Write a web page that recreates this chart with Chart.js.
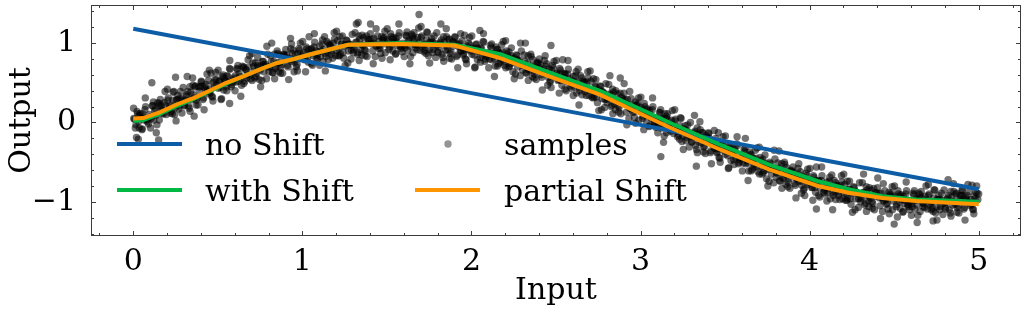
<!DOCTYPE html>
<html><head><meta charset="utf-8">
<script src="https://cdn.jsdelivr.net/npm/chart.js@4.4.0/dist/chart.umd.min.js"></script>
<style>html,body{margin:0;padding:0;background:#fff;}canvas{display:block;}</style>
</head><body>
<canvas id="c" width="1026" height="313"></canvas>
<script>
// ---------------- data ----------------
const xTickValues = [0, 1, 2, 3, 4, 5];
const yTickValues = [-1, 0, 1];

const noShiftX = [0, 1, 2, 3, 4, 5];
const noShiftY = [1.18, 0.78, 0.37, -0.03, -0.44, -0.84];

const shiftX = [0, 0.06, 0.16, 0.26, 0.36, 0.46, 0.55, 0.65, 0.75, 0.85, 0.95, 1.05, 1.27, 1.58, 1.9, 2.17, 2.46, 2.76, 3.05, 3.17, 3.47, 3.76, 4.05, 4.23, 4.43, 4.63, 5.0];
const withShiftY = [0.02, 0.03, 0.11, 0.21, 0.30, 0.40, 0.49, 0.58, 0.67, 0.75, 0.80, 0.86, 0.98, 1.00, 0.98, 0.86, 0.63, 0.40, 0.12, 0.00, -0.28, -0.53, -0.74, -0.84, -0.93, -0.97, -1.00];
const partialShiftY = [0.05, 0.055, 0.13, 0.23, 0.31, 0.41, 0.50, 0.58, 0.67, 0.75, 0.80, 0.86, 0.98, 0.99, 0.97, 0.81, 0.58, 0.35, 0.06, -0.06, -0.34, -0.59, -0.80, -0.885, -0.95, -0.99, -1.03];

const samples = [
[0.003,0.05],[0.012,-0.07],[0.022,0.14],[0.031,0.01],[0.040,0.11],[0.051,-0.09],[0.060,0.07],[0.069,0.16],[0.079,0.03],[0.090,-0.02],
[0.103,0.07],[0.112,0.21],[0.122,0.03],[0.131,0.17],[0.140,-0.03],[0.151,0.21],[0.160,0.29],[0.169,0.16],[0.179,0.11],[0.190,0.21],
[0.203,0.28],[0.212,0.17],[0.222,0.22],[0.231,0.11],[0.240,0.39],[0.251,0.19],[0.260,0.29],[0.269,0.17],[0.279,0.39],[0.290,0.27],
[0.303,0.21],[0.312,0.33],[0.322,0.39],[0.331,0.18],[0.340,0.38],[0.351,0.56],[0.360,0.31],[0.369,0.46],[0.379,0.31],[0.390,0.39],
[0.403,0.51],[0.412,0.29],[0.422,0.45],[0.431,0.48],[0.440,0.40],[0.451,0.36],[0.460,0.62],[0.469,0.32],[0.479,0.46],[0.490,0.54],
[0.503,0.43],[0.512,0.52],[0.522,0.30],[0.531,0.60],[0.540,0.52],[0.551,0.45],[0.560,0.58],[0.569,0.68],[0.579,0.45],[0.590,0.54],
[0.603,0.59],[0.612,0.68],[0.622,0.52],[0.631,0.58],[0.640,0.47],[0.651,0.69],[0.660,0.52],[0.669,0.66],[0.679,0.79],[0.690,0.60],
[0.703,0.53],[0.712,0.71],[0.722,0.75],[0.731,0.62],[0.740,0.70],[0.751,0.66],[0.760,0.53],[0.769,0.77],[0.779,0.71],[0.790,0.96],
[0.803,0.70],[0.812,0.84],[0.822,0.63],[0.831,0.77],[0.840,0.68],[0.851,0.90],[0.860,0.64],[0.869,0.76],[0.879,0.73],[0.890,0.86],
[0.903,0.81],[0.912,0.72],[0.922,0.79],[0.931,0.93],[0.940,0.87],[0.951,0.64],[0.960,0.86],[0.969,0.73],[0.979,0.93],[0.990,0.81],
[1.003,0.85],[1.012,0.79],[1.022,0.95],[1.031,0.82],[1.040,1.08],[1.051,0.92],[1.060,0.72],[1.069,0.95],[1.079,0.90],[1.090,0.80],
[1.103,0.96],[1.112,0.90],[1.122,0.77],[1.131,1.08],[1.140,0.83],[1.151,0.88],[1.160,0.98],[1.169,0.96],[1.179,0.81],[1.190,1.05],
[1.203,0.91],[1.212,0.84],[1.222,1.08],[1.231,0.99],[1.240,0.88],[1.251,0.96],[1.260,1.04],[1.269,0.75],[1.279,0.99],[1.290,0.91],
[1.303,0.92],[1.312,1.13],[1.322,1.01],[1.331,0.88],[1.340,1.05],[1.351,0.85],[1.360,0.97],[1.369,0.92],[1.379,1.09],[1.390,1.00],
[1.403,1.24],[1.412,0.99],[1.422,1.06],[1.431,0.83],[1.440,0.97],[1.451,1.02],[1.460,0.94],[1.469,1.08],[1.479,1.06],[1.490,0.88],
[1.503,1.05],[1.512,0.92],[1.522,1.12],[1.531,0.98],[1.540,1.07],[1.551,0.86],[1.560,1.01],[1.569,1.09],[1.579,0.95],[1.590,0.89],
[1.603,0.97],[1.612,1.10],[1.622,0.91],[1.631,1.04],[1.640,0.83],[1.651,1.06],[1.660,1.13],[1.669,0.98],[1.679,0.92],[1.690,1.01],
[1.703,1.07],[1.712,0.95],[1.722,0.99],[1.731,0.87],[1.740,1.13],[1.751,0.92],[1.760,1.01],[1.769,0.88],[1.779,1.09],[1.790,0.96],
[1.803,0.88],[1.812,0.99],[1.822,1.04],[1.831,0.82],[1.840,1.01],[1.851,1.18],[1.860,0.92],[1.869,1.05],[1.879,0.89],[1.890,0.96],
[1.903,1.07],[1.912,0.83],[1.922,0.98],[1.931,1.00],[1.940,0.90],[1.951,0.85],[1.960,1.10],[1.969,0.79],[1.979,0.92],[1.990,0.98],
[2.003,0.86],[2.012,0.93],[2.022,0.70],[2.031,0.99],[2.040,0.90],[2.051,0.82],[2.060,0.93],[2.069,1.02],[2.079,0.77],[2.090,0.85],
[2.103,0.88],[2.112,0.97],[2.122,0.79],[2.131,0.84],[2.140,0.71],[2.151,0.92],[2.160,0.74],[2.169,0.87],[2.179,0.98],[2.190,0.77],
[2.203,0.69],[2.212,0.86],[2.222,0.89],[2.231,0.74],[2.240,0.81],[2.251,0.76],[2.260,0.61],[2.269,0.84],[2.279,0.77],[2.290,1.00],
[2.303,0.72],[2.312,0.85],[2.322,0.63],[2.331,0.75],[2.340,0.66],[2.351,0.86],[2.360,0.58],[2.369,0.70],[2.379,0.65],[2.390,0.76],
[2.403,0.69],[2.412,0.60],[2.422,0.65],[2.431,0.78],[2.440,0.71],[2.451,0.47],[2.460,0.67],[2.469,0.53],[2.479,0.72],[2.490,0.58],
[2.503,0.61],[2.512,0.53],[2.522,0.68],[2.531,0.53],[2.540,0.79],[2.551,0.61],[2.560,0.40],[2.569,0.61],[2.579,0.55],[2.590,0.43],
[2.603,0.58],[2.612,0.51],[2.622,0.37],[2.631,0.67],[2.640,0.40],[2.651,0.44],[2.660,0.52],[2.669,0.50],[2.679,0.34],[2.690,0.56],
[2.703,0.41],[2.712,0.32],[2.722,0.55],[2.731,0.45],[2.740,0.32],[2.751,0.39],[2.760,0.46],[2.769,0.16],[2.779,0.38],[2.790,0.29],
[2.803,0.29],[2.812,0.48],[2.822,0.35],[2.831,0.22],[2.840,0.38],[2.851,0.16],[2.860,0.27],[2.869,0.21],[2.879,0.37],[2.890,0.27],
[2.903,0.49],[2.912,0.24],[2.922,0.29],[2.931,0.05],[2.940,0.18],[2.951,0.22],[2.960,0.13],[2.969,0.26],[2.979,0.22],[2.990,0.03],
[3.003,0.19],[3.012,0.05],[3.022,0.24],[3.031,0.09],[3.040,0.17],[3.051,-0.05],[3.060,0.09],[3.069,0.16],[3.079,0.01],[3.090,-0.06],
[3.103,0.01],[3.112,0.13],[3.122,-0.07],[3.131,0.05],[3.140,-0.17],[3.151,0.05],[3.160,0.11],[3.169,-0.04],[3.179,-0.11],[3.190,-0.03],
[3.203,0.02],[3.212,-0.11],[3.222,-0.08],[3.231,-0.21],[3.240,0.05],[3.251,-0.17],[3.260,-0.09],[3.269,-0.23],[3.279,-0.03],[3.290,-0.17],
[3.303,-0.25],[3.312,-0.15],[3.322,-0.11],[3.331,-0.34],[3.340,-0.15],[3.351,0.01],[3.360,-0.26],[3.369,-0.13],[3.379,-0.30],[3.390,-0.24],
[3.403,-0.14],[3.412,-0.38],[3.422,-0.24],[3.431,-0.23],[3.440,-0.32],[3.451,-0.38],[3.460,-0.13],[3.469,-0.45],[3.479,-0.33],[3.490,-0.27],
[3.503,-0.40],[3.512,-0.33],[3.522,-0.57],[3.531,-0.29],[3.540,-0.38],[3.551,-0.47],[3.560,-0.36],[3.569,-0.27],[3.579,-0.52],[3.590,-0.45],
[3.603,-0.43],[3.612,-0.34],[3.622,-0.52],[3.631,-0.48],[3.640,-0.61],[3.651,-0.41],[3.660,-0.59],[3.669,-0.46],[3.679,-0.35],[3.690,-0.56],
[3.703,-0.65],[3.712,-0.48],[3.722,-0.46],[3.731,-0.61],[3.740,-0.53],[3.751,-0.59],[3.760,-0.74],[3.769,-0.52],[3.779,-0.59],[3.790,-0.35],
[3.803,-0.63],[3.812,-0.51],[3.822,-0.73],[3.831,-0.61],[3.840,-0.70],[3.851,-0.50],[3.860,-0.78],[3.869,-0.66],[3.879,-0.71],[3.890,-0.60],
[3.903,-0.67],[3.912,-0.77],[3.922,-0.71],[3.931,-0.58],[3.940,-0.66],[3.951,-0.89],[3.960,-0.69],[3.969,-0.83],[3.979,-0.64],[3.990,-0.78],
[4.003,-0.75],[4.012,-0.82],[4.022,-0.67],[4.031,-0.82],[4.040,-0.56],[4.051,-0.74],[4.060,-0.94],[4.069,-0.73],[4.079,-0.79],[4.090,-0.90],
[4.103,-0.75],[4.112,-0.83],[4.122,-0.96],[4.131,-0.66],[4.140,-0.92],[4.151,-0.88],[4.160,-0.79],[4.169,-0.82],[4.179,-0.97],[4.190,-0.75],
[4.203,-0.89],[4.212,-0.98],[4.222,-0.74],[4.231,-0.84],[4.240,-0.96],[4.251,-0.89],[4.260,-0.81],[4.269,-1.10],[4.279,-0.88],[4.290,-0.96],
[4.303,-0.96],[4.312,-0.76],[4.322,-0.88],[4.331,-1.02],[4.340,-0.85],[4.351,-1.06],[4.360,-0.95],[4.369,-1.00],[4.379,-0.83],[4.390,-0.93],
[4.403,-0.70],[4.412,-0.95],[4.422,-0.89],[4.431,-1.12],[4.440,-0.98],[4.451,-0.94],[4.460,-1.02],[4.469,-0.88],[4.479,-0.91],[4.490,-1.10],
[4.503,-0.93],[4.512,-1.06],[4.522,-0.86],[4.531,-1.00],[4.540,-0.91],[4.551,-1.13],[4.560,-0.98],[4.569,-0.90],[4.579,-1.04],[4.590,-1.10],
[4.603,-1.02],[4.612,-0.89],[4.622,-1.09],[4.631,-0.96],[4.640,-1.17],[4.651,-0.94],[4.660,-0.87],[4.669,-1.01],[4.679,-1.07],[4.690,-0.98],
[4.703,-0.92],[4.712,-1.04],[4.722,-1.00],[4.731,-1.12],[4.740,-0.85],[4.751,-1.06],[4.760,-0.97],[4.769,-1.10],[4.779,-0.89],[4.790,-1.02],
[4.803,-1.09],[4.812,-0.97],[4.822,-0.92],[4.831,-1.14],[4.840,-0.94],[4.851,-0.77],[4.860,-1.03],[4.869,-0.89],[4.879,-1.05],[4.890,-0.97],
[4.903,-0.86],[4.912,-1.09],[4.922,-0.94],[4.931,-0.92],[4.940,-1.00],[4.951,-1.05],[4.960,-0.79],[4.969,-1.10],[4.979,-0.96],[4.990,-0.89],
[0.030,-0.21],[0.110,0.50],[0.250,0.57],[0.450,0.66],[0.930,1.06],[1.690,1.36],[1.330,1.26],[2.050,1.16],[2.470,0.97],[2.880,0.56],
[0.360,0.08],[0.570,0.24],[3.120,-0.43],[3.330,-0.55],[3.620,-0.20],[4.040,-1.09],[4.500,-1.28],[4.730,-1.24],[0.150,-0.22],[5.000,-0.90],
[0.007,0.04],[0.016,-0.03],[0.026,0.11],[0.035,-0.07],[0.045,0.05],[0.054,0.11],[0.064,0.03],[0.073,0.20],[0.083,0.01],[0.095,0.10],
[0.107,0.05],[0.116,0.21],[0.126,0.15],[0.135,0.09],[0.145,0.25],[0.154,0.03],[0.164,0.21],[0.173,0.15],[0.183,0.25],[0.195,0.10],
[0.207,0.31],[0.216,0.20],[0.226,0.14],[0.235,0.28],[0.245,0.10],[0.254,0.28],[0.264,0.34],[0.273,0.21],[0.283,0.30],[0.295,0.44],
[0.307,0.28],[0.316,0.35],[0.326,0.21],[0.335,0.45],[0.345,0.29],[0.354,0.35],[0.364,0.45],[0.373,0.28],[0.383,0.22],[0.395,0.45],
[0.407,0.46],[0.416,0.31],[0.426,0.42],[0.435,0.39],[0.445,0.53],[0.454,0.38],[0.464,0.33],[0.473,0.50],[0.483,0.54],[0.495,0.47],
[0.507,0.52],[0.516,0.44],[0.526,0.58],[0.535,0.41],[0.545,0.53],[0.554,0.59],[0.564,0.50],[0.573,0.67],[0.583,0.48],[0.595,0.56],
[0.607,0.51],[0.616,0.67],[0.626,0.61],[0.635,0.55],[0.645,0.71],[0.654,0.49],[0.664,0.67],[0.673,0.60],[0.683,0.70],[0.695,0.55],
[0.707,0.75],[0.716,0.65],[0.726,0.58],[0.735,0.72],[0.745,0.54],[0.754,0.71],[0.764,0.77],[0.773,0.64],[0.783,0.73],[0.795,0.86],
[0.807,0.70],[0.816,0.77],[0.826,0.63],[0.835,0.86],[0.845,0.70],[0.854,0.75],[0.864,0.85],[0.873,0.69],[0.883,0.62],[0.895,0.84],
[0.907,0.85],[0.916,0.70],[0.926,0.81],[0.935,0.77],[0.945,0.91],[0.954,0.76],[0.964,0.70],[0.973,0.87],[0.983,0.91],[0.995,0.83],
[1.007,0.88],[1.016,0.80],[1.026,0.93],[1.035,0.76],[1.045,0.87],[1.054,0.93],[1.064,0.84],[1.073,1.01],[1.083,0.81],[1.095,0.89],
[1.107,0.83],[1.116,0.99],[1.126,0.92],[1.135,0.87],[1.145,1.02],[1.154,0.79],[1.164,0.97],[1.173,0.90],[1.183,1.00],[1.195,0.84],
[1.207,1.03],[1.216,0.93],[1.226,0.86],[1.235,0.99],[1.245,0.81],[1.254,0.98],[1.264,1.03],[1.273,0.90],[1.283,0.98],[1.295,1.11],
[1.307,0.95],[1.316,1.01],[1.326,0.86],[1.335,1.09],[1.345,0.92],[1.354,0.98],[1.364,1.07],[1.373,0.90],[1.383,0.83],[1.395,1.04],
[1.407,1.05],[1.416,0.90],[1.426,1.00],[1.435,0.96],[1.445,1.09],[1.454,0.93],[1.464,0.87],[1.473,1.03],[1.483,1.07],[1.495,0.99],
[1.507,1.03],[1.516,0.95],[1.526,1.08],[1.535,0.90],[1.545,1.01],[1.554,1.06],[1.564,0.97],[1.573,1.13],[1.583,0.93],[1.595,1.00],
[1.607,0.94],[1.616,1.09],[1.626,1.02],[1.635,0.96],[1.645,1.11],[1.654,0.88],[1.664,1.05],[1.673,0.98],[1.683,1.07],[1.695,0.91],
[1.707,1.09],[1.716,0.98],[1.726,0.91],[1.735,1.04],[1.745,0.84],[1.754,1.01],[1.764,1.06],[1.773,0.92],[1.783,1.00],[1.795,1.13],
[1.807,0.95],[1.816,1.01],[1.826,0.86],[1.835,1.08],[1.845,0.91],[1.854,0.96],[1.864,1.05],[1.873,0.87],[1.883,0.80],[1.895,1.01],
[1.907,1.00],[1.916,0.85],[1.926,0.95],[1.935,0.90],[1.945,1.03],[1.954,0.87],[1.964,0.80],[1.973,0.96],[1.983,1.00],[1.995,0.90],
[2.007,0.94],[2.016,0.85],[2.026,0.98],[2.035,0.79],[2.045,0.90],[2.054,0.94],[2.064,0.85],[2.073,1.01],[2.083,0.80],[2.095,0.87],
[2.107,0.80],[2.116,0.94],[2.126,0.87],[2.135,0.80],[2.145,0.95],[2.154,0.71],[2.164,0.88],[2.173,0.80],[2.183,0.89],[2.195,0.72],
[2.207,0.90],[2.216,0.79],[2.226,0.71],[2.235,0.84],[2.245,0.64],[2.254,0.81],[2.264,0.85],[2.273,0.70],[2.283,0.78],[2.295,0.90],
[2.307,0.72],[2.316,0.77],[2.326,0.62],[2.335,0.84],[2.345,0.66],[2.354,0.71],[2.364,0.79],[2.373,0.61],[2.383,0.54],[2.395,0.74],
[2.407,0.73],[2.416,0.57],[2.426,0.67],[2.435,0.62],[2.445,0.74],[2.454,0.57],[2.464,0.51],[2.473,0.66],[2.483,0.69],[2.495,0.59],
[2.507,0.62],[2.516,0.54],[2.526,0.66],[2.535,0.47],[2.545,0.57],[2.554,0.61],[2.564,0.52],[2.573,0.67],[2.583,0.46],[2.595,0.52],
[2.607,0.45],[2.616,0.59],[2.626,0.51],[2.635,0.45],[2.645,0.59],[2.654,0.35],[2.664,0.51],[2.673,0.43],[2.683,0.51],[2.695,0.34],
[2.707,0.52],[2.716,0.40],[2.726,0.32],[2.735,0.45],[2.745,0.25],[2.754,0.41],[2.764,0.45],[2.773,0.30],[2.783,0.37],[2.795,0.49],
[2.807,0.31],[2.816,0.36],[2.826,0.20],[2.835,0.42],[2.845,0.24],[2.854,0.28],[2.864,0.36],[2.873,0.19],[2.883,0.11],[2.895,0.30],
[2.907,0.29],[2.916,0.13],[2.926,0.22],[2.935,0.18],[2.945,0.30],[2.954,0.13],[2.964,0.06],[2.973,0.21],[2.983,0.24],[2.995,0.14],
[3.007,0.16],[3.016,0.08],[3.026,0.20],[3.035,0.01],[3.045,0.11],[3.054,0.15],[3.064,0.05],[3.073,0.20],[3.083,-0.01],[3.095,0.05],
[3.107,-0.03],[3.116,0.12],[3.126,0.04],[3.135,-0.03],[3.145,0.11],[3.154,-0.13],[3.164,0.03],[3.173,-0.05],[3.183,0.03],[3.195,-0.14],
[3.207,0.04],[3.216,-0.08],[3.226,-0.16],[3.235,-0.04],[3.245,-0.24],[3.254,-0.08],[3.264,-0.04],[3.273,-0.19],[3.283,-0.12],[3.295,0.00],
[3.307,-0.18],[3.316,-0.13],[3.326,-0.29],[3.335,-0.07],[3.345,-0.25],[3.354,-0.21],[3.364,-0.13],[3.373,-0.31],[3.383,-0.39],[3.395,-0.19],
[3.407,-0.20],[3.416,-0.36],[3.426,-0.27],[3.435,-0.32],[3.445,-0.20],[3.454,-0.37],[3.464,-0.44],[3.473,-0.29],[3.483,-0.26],[3.495,-0.36],
[3.507,-0.33],[3.516,-0.42],[3.526,-0.30],[3.535,-0.48],[3.545,-0.38],[3.554,-0.34],[3.564,-0.44],[3.573,-0.29],[3.583,-0.50],[3.595,-0.44],
[3.607,-0.51],[3.616,-0.37],[3.626,-0.45],[3.635,-0.51],[3.645,-0.37],[3.654,-0.61],[3.664,-0.45],[3.673,-0.53],[3.683,-0.45],[3.695,-0.62],
[3.707,-0.44],[3.716,-0.55],[3.726,-0.63],[3.735,-0.51],[3.745,-0.71],[3.754,-0.54],[3.764,-0.50],[3.773,-0.65],[3.783,-0.58],[3.795,-0.46],
[3.807,-0.64],[3.816,-0.58],[3.826,-0.74],[3.835,-0.52],[3.845,-0.70],[3.854,-0.65],[3.864,-0.57],[3.873,-0.75],[3.883,-0.83],[3.895,-0.62],
[3.907,-0.63],[3.916,-0.79],[3.926,-0.70],[3.935,-0.74],[3.945,-0.62],[3.954,-0.79],[3.964,-0.85],[3.973,-0.70],[3.983,-0.67],[3.995,-0.76],
[4.007,-0.73],[4.016,-0.82],[4.026,-0.69],[4.035,-0.88],[4.045,-0.77],[4.054,-0.73],[4.064,-0.83],[4.073,-0.67],[4.083,-0.88],[4.095,-0.82],
[4.107,-0.88],[4.116,-0.74],[4.126,-0.81],[4.135,-0.88],[4.145,-0.73],[4.154,-0.97],[4.164,-0.80],[4.173,-0.88],[4.183,-0.79],[4.195,-0.96],
[4.207,-0.78],[4.216,-0.89],[4.226,-0.96],[4.235,-0.84],[4.245,-1.03],[4.254,-0.87],[4.264,-0.82],[4.273,-0.96],[4.283,-0.89],[4.295,-0.76],
[4.307,-0.94],[4.316,-0.88],[4.326,-1.04],[4.335,-0.81],[4.345,-0.98],[4.354,-0.94],[4.364,-0.85],[4.373,-1.02],[4.383,-1.10],[4.395,-0.89],
[4.407,-0.89],[4.416,-1.05],[4.426,-0.95],[4.435,-0.99],[4.445,-0.86],[4.454,-1.03],[4.464,-1.09],[4.473,-0.93],[4.483,-0.89],[4.495,-0.99],
[4.507,-0.95],[4.516,-1.03],[4.526,-0.90],[4.535,-1.08],[4.545,-0.97],[4.554,-0.93],[4.564,-1.02],[4.573,-0.86],[4.583,-1.06],[4.595,-0.99],
[4.607,-1.06],[4.616,-0.91],[4.626,-0.98],[4.635,-1.04],[4.645,-0.89],[4.654,-1.12],[4.664,-0.95],[4.673,-1.02],[4.683,-0.93],[4.695,-1.09],
[4.707,-0.90],[4.716,-1.01],[4.726,-1.08],[4.735,-0.95],[4.745,-1.14],[4.754,-0.97],[4.764,-0.92],[4.773,-1.06],[4.783,-0.98],[4.795,-0.85],
[4.807,-1.01],[4.816,-0.95],[4.826,-1.10],[4.835,-0.87],[4.845,-1.04],[4.854,-0.99],[4.864,-0.90],[4.873,-1.07],[4.883,-1.14],[4.895,-0.92],
[4.907,-0.92],[4.916,-1.07],[4.926,-0.97],[4.935,-1.00],[4.945,-0.87],[4.954,-1.03],[4.964,-1.09],[4.973,-0.93],[4.983,-0.88],[4.995,-0.97],
[0.002,0.18],[0.019,-0.19],[0.036,0.09],[0.053,-0.08],[0.071,0.31],[0.088,0.05],
[0.102,-0.07],[0.119,0.26],[0.136,-0.13],[0.153,0.24],[0.171,0.11],[0.188,0.39],
[0.202,0.42],[0.219,0.12],[0.236,0.38],[0.253,0.02],[0.271,0.30],[0.288,0.12],
[0.302,0.22],[0.319,0.58],[0.336,0.14],[0.353,0.47],[0.371,0.22],[0.388,0.45],
[0.402,0.52],[0.419,0.16],[0.436,0.61],[0.453,0.42],[0.471,0.27],[0.488,0.63],
[0.502,0.66],[0.519,0.29],[0.536,0.56],[0.553,0.40],[0.571,0.78],[0.588,0.51],
[0.602,0.40],[0.619,0.72],[0.636,0.33],[0.653,0.70],[0.671,0.56],[0.688,0.84],
[0.702,0.87],[0.719,0.56],[0.736,0.82],[0.753,0.45],[0.771,0.73],[0.788,0.55],
[0.802,0.64],[0.819,1.00],[0.836,0.55],[0.853,0.87],[0.871,0.62],[0.888,0.85],
[0.902,0.92],[0.919,0.54],[0.936,0.99],[0.953,0.79],[0.971,0.65],[0.988,1.00],
[1.002,1.02],[1.019,0.64],[1.036,0.91],[1.053,0.74],[1.071,1.12],[1.088,0.85],
[1.102,0.72],[1.119,1.04],[1.136,0.65],[1.153,1.00],[1.171,0.86],[1.188,1.13],
[1.202,1.15],[1.219,0.84],[1.236,1.09],[1.253,0.72],[1.271,0.98],[1.288,0.80],
[1.302,0.88],[1.319,1.24],[1.336,0.78],[1.353,1.10],[1.371,0.84],[1.388,1.05],
[1.402,1.12],[1.419,0.74],[1.436,1.18],[1.453,0.97],[1.471,0.81],[1.488,1.15],
[1.502,1.18],[1.519,0.79],[1.536,1.05],[1.553,0.87],[1.571,1.24],[1.588,0.96],
[1.602,0.83],[1.619,1.14],[1.636,0.74],[1.653,1.09],[1.671,0.94],[1.688,1.19],
[1.702,1.21],[1.719,0.89],[1.736,1.14],[1.753,0.75],[1.771,1.01],[1.788,0.82],
[1.802,0.89],[1.819,1.24],[1.836,0.77],[1.853,1.08],[1.871,0.81],[1.888,1.02],
[1.902,1.08],[1.919,0.69],[1.936,1.12],[1.953,0.91],[1.971,0.74],[1.988,1.07],
[2.002,1.09],[2.019,0.69],[2.036,0.94],[2.053,0.76],[2.071,1.12],[2.088,0.83],
[2.102,0.69],[2.119,0.99],[2.136,0.58],[2.153,0.92],[2.171,0.76],[2.188,1.02],
[2.202,1.03],[2.219,0.70],[2.236,0.94],[2.253,0.55],[2.271,0.79],[2.288,0.59],
[2.302,0.66],[2.319,1.00],[2.336,0.53],[2.353,0.83],[2.371,0.56],[2.388,0.75],
[2.402,0.80],[2.419,0.41],[2.436,0.84],[2.453,0.62],[2.471,0.44],[2.488,0.77],
[2.502,0.78],[2.519,0.37],[2.536,0.62],[2.553,0.42],[2.571,0.78],[2.588,0.49],
[2.602,0.34],[2.619,0.64],[2.636,0.22],[2.653,0.56],[2.671,0.39],[2.688,0.64],
[2.702,0.65],[2.719,0.31],[2.736,0.54],[2.753,0.15],[2.771,0.39],[2.788,0.19],
[2.802,0.25],[2.819,0.59],[2.836,0.11],[2.853,0.40],[2.871,0.13],[2.888,0.32],
[2.902,0.37],[2.919,-0.03],[2.936,0.39],[2.953,0.17],[2.971,-0.01],[2.988,0.31],
[3.002,0.32],[3.019,-0.09],[3.036,0.16],[3.053,-0.04],[3.071,0.31],[3.088,0.01],
[3.102,-0.13],[3.119,0.16],[3.136,-0.25],[3.153,0.08],[3.171,-0.09],[3.188,0.15],
[3.202,0.16],[3.219,-0.18],[3.236,0.06],[3.253,-0.34],[3.271,-0.10],[3.288,-0.31],
[3.302,-0.24],[3.319,0.09],[3.336,-0.38],[3.353,-0.09],[3.371,-0.37],[3.388,-0.17],
[3.402,-0.13],[3.419,-0.52],[3.436,-0.10],[3.453,-0.33],[3.471,-0.50],[3.488,-0.18],
[3.502,-0.17],[3.519,-0.58],[3.536,-0.33],[3.553,-0.53],[3.571,-0.18],[3.588,-0.47],
[3.602,-0.61],[3.619,-0.32],[3.636,-0.73],[3.653,-0.40],[3.671,-0.56],[3.688,-0.32],
[3.702,-0.31],[3.719,-0.65],[3.736,-0.41],[3.753,-0.80],[3.771,-0.56],[3.788,-0.76],
[3.802,-0.69],[3.819,-0.36],[3.836,-0.83],[3.853,-0.53],[3.871,-0.81],[3.888,-0.61],
[3.902,-0.56],[3.919,-0.95],[3.936,-0.52],[3.953,-0.74],[3.971,-0.92],[3.988,-0.59],
[4.002,-0.58],[4.019,-0.98],[4.036,-0.73],[4.053,-0.92],[4.071,-0.56],[4.088,-0.85],
[4.102,-0.99],[4.119,-0.69],[4.136,-1.10],[4.153,-0.76],[4.171,-0.92],[4.188,-0.67],
[4.202,-0.65],[4.219,-0.98],[4.236,-0.74],[4.253,-1.13],[4.271,-0.87],[4.288,-1.07],
[4.302,-1.00],[4.319,-0.65],[4.336,-1.12],[4.353,-0.82],[4.371,-1.08],[4.388,-0.88],
[4.402,-0.82],[4.419,-1.21],[4.436,-0.77],[4.453,-0.97],[4.471,-1.15],[4.488,-0.81],
[4.502,-0.80],[4.519,-1.19],[4.536,-0.93],[4.553,-1.12],[4.571,-0.75],[4.588,-1.03],
[4.602,-1.17],[4.619,-0.86],[4.636,-1.26],[4.653,-0.91],[4.671,-1.06],[4.688,-0.80],
[4.702,-0.78],[4.719,-1.10],[4.736,-0.85],[4.753,-1.23],[4.771,-0.97],[4.788,-1.16],
[4.802,-1.07],[4.819,-0.72],[4.836,-1.18],[4.853,-0.87],[4.871,-1.13],[4.888,-0.92],
[4.902,-0.85],[4.919,-1.23],[4.936,-0.78],[4.953,-0.97],[4.971,-1.15],[4.988,-0.80]
];

// ---------------- style ----------------
const FONT = 'DejaVu Serif';
const FS = 30;
const BLUE = '#0C5DA5', GREEN = '#00B945', ORANGE = '#FF9500';
const FRAME = '#3c3c3c';
const fmt = v => v < 0 ? '\u2212' + Math.abs(v) : String(v);
const zipXY = (xs, ys) => xs.map((x, i) => ({x, y: ys[i]}));

const axisDecor = {
  id: 'axisDecor',
  afterDatasetsDraw(chart) {
    const {ctx, chartArea: a, scales: {x, y}} = chart;
    ctx.save();
    ctx.strokeStyle = FRAME;
    ctx.lineWidth = 1;
    ctx.beginPath();
    for (let i = -1; i <= 26; i++) {
      const v = i * 0.2;
      if (v < x.min || v > x.max) continue;
      const px = Math.round(x.getPixelForValue(v)) + 0.5;
      const len = (i % 5 === 0) ? 5 : 3;
      ctx.moveTo(px, a.bottom); ctx.lineTo(px, a.bottom - len);
      ctx.moveTo(px, a.top); ctx.lineTo(px, a.top + len);
    }
    for (let i = -7; i <= 7; i++) {
      const v = i * 0.2;
      if (v < y.min || v > y.max) continue;
      const py = Math.round(y.getPixelForValue(v)) + 0.5;
      const len = (i % 5 === 0) ? 5 : 3;
      ctx.moveTo(a.left, py); ctx.lineTo(a.left + len, py);
      ctx.moveTo(a.right, py); ctx.lineTo(a.right - len, py);
    }
    ctx.stroke();
    ctx.strokeRect(Math.round(a.left) + 0.5, Math.round(a.top) + 0.5,
                   Math.round(a.right - a.left) - 1, Math.round(a.bottom - a.top) - 1);
    ctx.restore();
  }
};

const insideLegend = {
  id: 'insideLegend',
  afterDraw(chart) {
    const ctx = chart.ctx;
    const ds = chart.data.datasets;
    const byLabel = l => ds.find(d => d.label === l);
    const entries = [
      {d: byLabel('no Shift'), hx: 117, tx: 205, y: 144},
      {d: byLabel('with Shift'), hx: 117, tx: 205, y: 190},
      {d: byLabel('samples'), hx: 415, tx: 504, y: 144},
      {d: byLabel('partial Shift'), hx: 415, tx: 504, y: 190}
    ];
    ctx.save();
    ctx.font = FS + 'px "' + FONT + '"';
    ctx.textBaseline = 'alphabetic';
    ctx.textAlign = 'left';
    for (const e of entries) {
      if (e.d.showLine) {
        ctx.strokeStyle = e.d.borderColor;
        ctx.lineWidth = e.d.borderWidth;
        ctx.beginPath();
        ctx.moveTo(e.hx, e.y); ctx.lineTo(e.hx + 65, e.y);
        ctx.stroke();
      } else {
        ctx.fillStyle = 'rgba(0,0,0,0.42)';
        ctx.beginPath();
        ctx.arc(e.hx + 33, e.y, e.d.pointRadius, 0, Math.PI * 2);
        ctx.fill();
      }
      ctx.fillStyle = '#000';
      ctx.fillText(e.d.label, e.tx, e.y + 11);
    }
    ctx.restore();
  }
};

new Chart(document.getElementById('c'), {
  type: 'scatter',
  data: {
    datasets: [
      {label: 'partial Shift', data: zipXY(shiftX, partialShiftY), showLine: true, borderColor: ORANGE, borderWidth: 4, pointRadius: 0, fill: false},
      {label: 'with Shift', data: zipXY(shiftX, withShiftY), showLine: true, borderColor: GREEN, borderWidth: 4, pointRadius: 0, fill: false},
      {label: 'no Shift', data: zipXY(noShiftX, noShiftY), showLine: true, borderColor: BLUE, borderWidth: 4, pointRadius: 0, fill: false},
      {label: 'samples', data: samples.map(p => ({x: p[0], y: p[1]})), showLine: false, backgroundColor: 'rgba(0,0,0,0.55)', borderWidth: 0, pointRadius: 3.7}
    ]
  },
  options: {
    responsive: false,
    animation: false,
    devicePixelRatio: 1,
    layout: {padding: {left: 0, right: 5, top: 5, bottom: 0}},
    plugins: {legend: {display: false}, tooltip: {enabled: false}},
    scales: {
      x: {
        type: 'linear', min: -0.25, max: 5.25,
        grid: {display: false}, border: {display: false},
        afterBuildTicks: s => { s.ticks = xTickValues.map(v => ({value: v})); },
        afterFit: s => { s.height = 77; s.paddingLeft = 0; s.paddingRight = 0; },
        ticks: {font: {family: FONT, size: FS}, color: '#000', padding: 0.5, maxRotation: 0, autoSkip: false, callback: v => fmt(v)},
        title: {display: true, text: 'Input', font: {family: FONT, size: FS}, color: '#000', padding: {top: 0, bottom: 3.5}}
      },
      y: {
        type: 'linear', min: -1.43, max: 1.48,
        grid: {display: false}, border: {display: false},
        afterBuildTicks: s => { s.ticks = yTickValues.map(v => ({value: v})); },
        afterFit: s => { s.width = 91; s.paddingTop = 0; s.paddingBottom = 0; },
        ticks: {font: {family: FONT, size: FS}, color: '#000', padding: 7, autoSkip: false, callback: v => fmt(v)},
        title: {display: true, text: 'Output', font: {family: FONT, size: FS}, color: '#000', padding: {top: 4, bottom: 0}}
      }
    }
  },
  plugins: [axisDecor, insideLegend]
});
</script>
</body></html>
